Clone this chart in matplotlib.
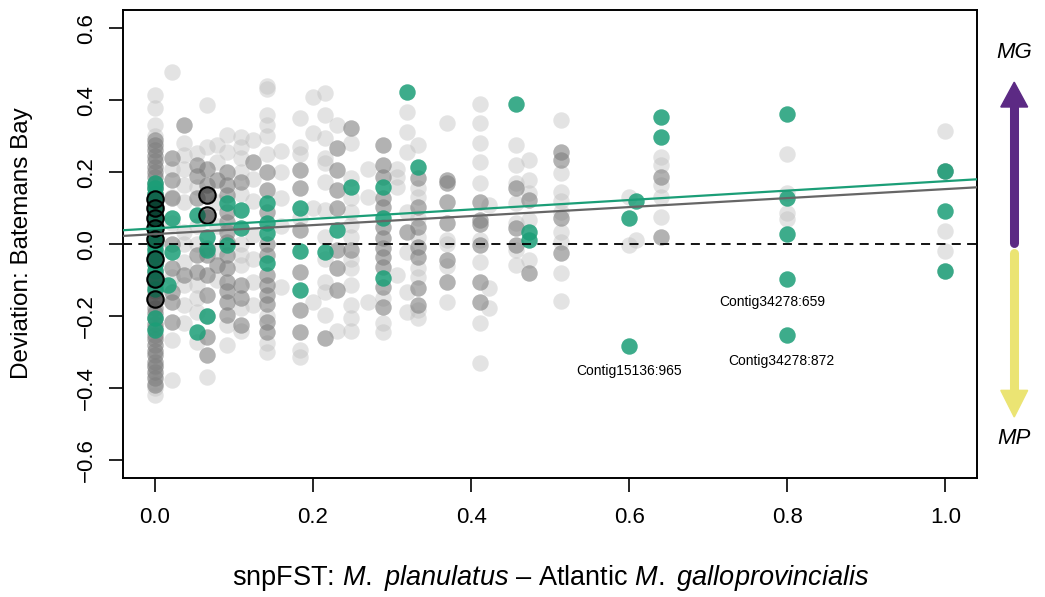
import matplotlib
matplotlib.use('Agg')
import matplotlib.pyplot as plt
from matplotlib.patches import Polygon

plt.rcParams['font.family'] = ['Liberation Sans', 'DejaVu Sans']
plt.rcParams['mathtext.fontset'] = 'custom'
plt.rcParams['mathtext.rm'] = 'Liberation Sans'
plt.rcParams['mathtext.it'] = 'Liberation Sans:italic'

# snpFST per locus column -> deviation values, split by point layer
light_pts = {
    0.0: [0.414, 0.378, 0.33, 0.30, -0.34, -0.362, -0.385, -0.40, -0.42],
    0.021: [0.478, 0.21, 0.06, -0.09, -0.267, -0.378, 0.13],
    0.037: [0.28, 0.247, 0.21, 0.164, 0.117, 0.033, 0.0, -0.05, -0.114, -0.17, -0.22],
    0.053: [0.253, 0.158, 0.05, 0.0, -0.114, -0.15, -0.189, -0.272],
    0.066: [0.386, -0.369, 0.27, -0.2],
    0.079: [0.275, 0.228, 0.117, 0.05, -0.02, -0.1],
    0.091: [0.303, 0.256, -0.225, -0.28],
    0.109: [0.297, 0.27, 0.239, 0.2, 0.14, 0.0, -0.031, -0.058, -0.178, -0.24],
    0.124: [0.29, 0.18, 0.12, 0.025, -0.04, -0.105, -0.17],
    0.142: [0.44, 0.43, 0.36, 0.33, 0.30, 0.25, -0.2, -0.275, -0.30],
    0.16: [0.26, 0.2, 0.128, 0.05, -0.12],
    0.184: [0.35, 0.27, 0.25, 0.072, -0.295, -0.313],
    0.2: [0.41, 0.31, 0.1, -0.16],
    0.215: [0.42, 0.358, 0.294, 0.24, 0.225, 0.172, 0.094, 0.02, -0.04, -0.105, -0.133, -0.197],
    0.23: [0.33, -0.24],
    0.248: [0.28, 0.183, 0.128, 0.09, 0.053, 0.02, -0.04, -0.067, -0.114, -0.17, -0.206, -0.24],
    0.27: [0.21, 0.13, -0.16],
    0.289: [-0.15, -0.22, -0.244],
    0.306: [0.21, 0.186, 0.158, -0.086],
    0.319: [0.367, 0.311, 0.255, 0.089, -0.022, -0.133, -0.189],
    0.333: [0.275, 0.155, 0.13, 0.072, 0.02, -0.067, -0.09, -0.183, -0.206],
    0.37: [0.336, 0.011, 0.0, -0.06, -0.161],
    0.411: [0.39, 0.336, 0.28, 0.228, 0.169, 0.011, -0.05, -0.22, -0.33],
    0.423: [0.108, -0.122, -0.178],
    0.457: [0.275, 0.22, 0.17, 0.114, 0.058, -0.017, -0.058],
    0.473: [0.233, 0.178, 0.142, 0.067, -0.044],
    0.514: [0.344, 0.197, 0.144, 0.12, 0.089, 0.033, 0.005, -0.081, -0.158],
    0.6: [0.131, -0.003],
    0.608: [0.011],
    0.64: [0.242, 0.22, 0.164, 0.131, 0.075],
    0.8: [0.25, 0.142, 0.086, 0.07],
    1.0: [0.314, 0.036, -0.019, -0.075],
}

dark_pts = {
    0.0: [0.29, 0.276, 0.262, 0.244, 0.231, 0.214, 0.2, 0.186, 0.168, 0.155, 0.139, 0.126,
          0.108, 0.096, 0.079, 0.066, 0.048, 0.036, 0.021, 0.004, -0.012, -0.026, -0.041,
          -0.056, -0.071, -0.084, -0.102, -0.114, -0.131, -0.146, -0.159, -0.176, -0.19,
          -0.206, -0.221, -0.233, -0.251, -0.264, -0.281, -0.296, -0.309, -0.326, -0.338,
          -0.356, -0.372, -0.39],
    0.021: [0.239, 0.178, 0.128, 0.0, -0.067, -0.133, -0.161, -0.217],
    0.037: [0.33, -0.086],
    0.053: [0.22, 0.19, 0.128, -0.031, -0.078],
    0.066: [0.21, 0.164, 0.136, 0.075, -0.011, -0.031, -0.086, -0.142, -0.258, -0.308],
    0.079: [0.178, -0.058],
    0.091: [0.2, 0.164, 0.136, 0.09, 0.061, 0.035, 0.006, -0.031, -0.067, -0.106, -0.13,
            -0.161, -0.197],
    0.109: [0.172, -0.114, -0.15, -0.225],
    0.124: [0.228],
    0.142: [0.2, 0.15, 0.09, 0.0, -0.03, -0.086, -0.114, -0.14, -0.165, -0.217, -0.245],
    0.184: [0.205, 0.155, 0.04, -0.078, -0.183, -0.245],
    0.215: [-0.26],
    0.23: [0.266, 0.205, 0.15, 0.1, -0.017, -0.067, -0.128],
    0.248: [0.322, -0.017],
    0.289: [0.275, 0.22, 0.186, 0.128, 0.103, 0.047, 0.017, -0.01, -0.036, -0.064, -0.12, -0.175],
    0.319: [0.033],
    0.333: [0.183, 0.103, 0.047, -0.008, -0.036, -0.122, -0.17],
    0.37: [0.178, 0.17, 0.117, 0.058, -0.044, -0.106],
    0.411: [0.117, 0.067, 0.055, -0.003, -0.106, -0.161],
    0.457: [0.155, 0.044, -0.003],
    0.473: [0.122, -0.081],
    0.514: [0.256, 0.233, 0.072, -0.025],
    0.64: [0.186, 0.019],
    1.0: [0.203],
}

green_pts = {
    0.0: [0.17, 0.155, 0.14, 0.12, 0.105, 0.09, 0.075, 0.06, 0.045, 0.03, 0.015, 0.0,
          -0.015, -0.03, -0.055, -0.075, -0.095, -0.125, -0.205, -0.238],
    0.021: [0.072, -0.022],
    0.016: [-0.114],
    0.053: [0.08, -0.244],
    0.066: [0.019, -0.017, -0.2],
    0.091: [0.114, -0.003],
    0.109: [0.094, 0.044],
    0.142: [0.114, 0.058, 0.03, -0.053],
    0.184: [0.1, -0.02, -0.128],
    0.215: [-0.022],
    0.23: [0.04],
    0.248: [0.158],
    0.289: [0.158, 0.072, -0.094],
    0.319: [0.422],
    0.333: [0.214],
    0.457: [0.389],
    0.473: [0.033, 0.011],
    0.6: [0.072, -0.283],
    0.608: [0.119],
    0.64: [0.353, 0.297],
    0.8: [0.361, 0.128, 0.028, -0.097, -0.253],
    1.0: [0.203, 0.092, -0.075],
}

ring_x = [0.0, 0.0, 0.0, 0.0, 0.0, 0.0, 0.0, 0.0, 0.066, 0.066]
ring_y = [0.125, 0.10, 0.072, 0.044, 0.014, -0.042, -0.097, -0.153, 0.136, 0.08]

# fitted lines (intercept, slope)
fit_green = (0.044, 0.131)
fit_grey = (0.028, 0.125)

label_text = ['Contig15136:965', 'Contig34278:659', 'Contig34278:872']
label_x = [0.6, 0.781, 0.792]
label_y = [-0.353, -0.161, -0.325]

xticks = [0.0, 0.2, 0.4, 0.6, 0.8, 1.0]
yticks = [-0.6, -0.4, -0.2, 0.0, 0.2, 0.4, 0.6]


def flatten(d):
    xs, ys = [], []
    for k, v in d.items():
        xs += [k] * len(v)
        ys += v
    return xs, ys


fig = plt.figure(figsize=(10.45, 5.97), dpi=100)
ax = fig.add_axes([0.118, 0.199, 0.817, 0.784])

S = 140
lx, ly = flatten(light_pts)
ax.scatter(lx, ly, s=S, color='#bebebe', alpha=0.42, linewidths=0, zorder=2)
dx, dy = flatten(dark_pts)
ax.scatter(dx, dy, s=S, color='#7f7f7f', alpha=0.6, linewidths=0, zorder=3)
gx, gy = flatten(green_pts)
ax.scatter(gx, gy, s=S, color='#1b9e77', alpha=0.85, linewidths=0, zorder=4)
ax.scatter(ring_x, ring_y, s=S, facecolor=(0, 0, 0, 0.35), edgecolor='black',
           linewidths=1.5, zorder=5)

xl = (-0.04, 1.04)
ax.plot(xl, [fit_green[0] + fit_green[1] * x for x in xl], color='#1b9e77', lw=1.6, zorder=6)
ax.plot(xl, [fit_grey[0] + fit_grey[1] * x for x in xl], color='#666666', lw=1.6, zorder=6)
ax.axhline(0, color='black', lw=1.3, ls=(0, (5, 3.5)), zorder=6)

for t, x, y in zip(label_text, label_x, label_y):
    ax.text(x, y, t, ha='center', va='center', fontsize=10, zorder=7)

ax.set_xlim(*xl)
ax.set_ylim(-0.65, 0.65)
ax.set_xticks(xticks)
ax.set_xticklabels(['%.1f' % v for v in xticks])
ax.set_yticks(yticks)
ax.set_yticklabels([('%.1f' % v).replace('-', '\u2212') for v in yticks],
                   rotation=90, va='center')
ax.tick_params(direction='out', length=10, width=1.2, labelsize=16)
ax.tick_params(axis='x', pad=11)
ax.tick_params(axis='y', pad=9)
for sp in ax.spines.values():
    sp.set_linewidth(1.4)

fig.text(0.021, 0.593, 'Deviation: Batemans Bay', rotation=90, ha='center', va='center',
         fontsize=17.5)
fig.text(0.527, 0.032,
         r'snpFST: $\mathit{M.\ planulatus}$ – Atlantic $\mathit{M.\ galloprovincialis}$',
         ha='center', va='center', fontsize=19.5)

# direction arrows on the right
xa = 1.087
purple = '#5c2a84'
yellow = '#ebe473'
hw = 0.034
ax.plot([xa, xa], [0.003, 0.385], color=purple, lw=6.5, solid_capstyle='round',
        clip_on=False)
ax.add_patch(Polygon([(xa - hw / 2, 0.381), (xa + hw / 2, 0.381), (xa, 0.45)],
                     closed=True, color=purple, clip_on=False))
ax.plot([xa, xa], [-0.025, -0.41], color=yellow, lw=6.5, solid_capstyle='round',
        clip_on=False)
ax.add_patch(Polygon([(xa - hw / 2, -0.406), (xa + hw / 2, -0.406), (xa, -0.48)],
                     closed=True, color=yellow, clip_on=False))
ax.text(xa, 0.531, 'MG', ha='center', va='center', fontsize=16, style='italic')
ax.text(xa, -0.539, 'MP', ha='center', va='center', fontsize=16, style='italic')

fig.savefig('out.png', dpi=100)
